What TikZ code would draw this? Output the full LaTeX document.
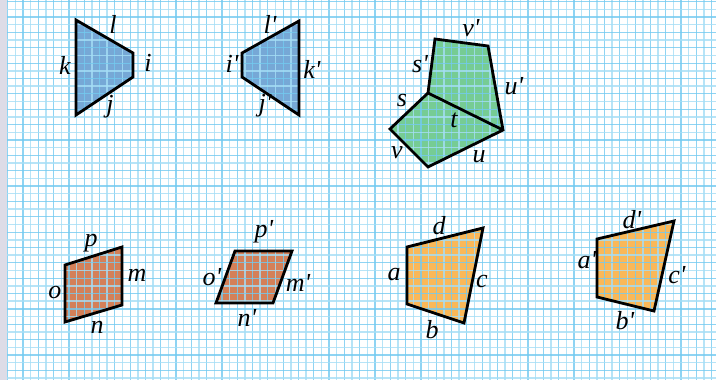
\documentclass[tikz,border=0pt]{standalone}
\usepackage{fontspec}
\setmainfont{Liberation Serif}[Ligatures=TeXOff]
\definecolor{gridblue}{RGB}{115,202,240}
\definecolor{gridpale}{RGB}{165,222,246}
\definecolor{stripgray}{RGB}{221,220,231}
\definecolor{shapeblue}{RGB}{118,168,214}
\definecolor{shapegreen}{RGB}{118,204,148}
\definecolor{shapebrown}{RGB}{212,128,88}
\definecolor{shapeorange}{RGB}{250,184,88}

\tikzset{
  figure/.style={draw=black, line width=2.8pt, line join=miter},
  lbl/.style={font=\fontsize{26}{30}\selectfont\itshape, inner sep=0pt},
}

\begin{document}
\begin{tikzpicture}[x=1pt,y=-1pt]
\useasboundingbox (0,0) rectangle (716,380);
\fill[white] (0,0) rectangle (716,380);
\fill[stripgray] (0,0) rectangle (7,380);

% vertices
\coordinate (kl) at (76,20);   \coordinate (li) at (133,53);
\coordinate (ij) at (133,77);  \coordinate (jk) at (76,115);
\coordinate (kl2) at (299,21); \coordinate (li2) at (242,53);
\coordinate (ij2) at (242,77); \coordinate (jk2) at (299,115);
\coordinate (sv2) at (435,39); \coordinate (vu2) at (488,46);
\coordinate (tu) at (503,130); \coordinate (st) at (428,93);
\coordinate (sv) at (390,129); \coordinate (vu) at (428,167);
\coordinate (op) at (65,265);  \coordinate (pm) at (122,247);
\coordinate (mn) at (122,305); \coordinate (no) at (65,322);
\coordinate (op2) at (235,251); \coordinate (pm2) at (292,251);
\coordinate (mn2) at (273,303); \coordinate (no2) at (216,303);
\coordinate (ad) at (407,247); \coordinate (dc) at (483,228);
\coordinate (cb) at (464,323); \coordinate (ba) at (407,304);
\coordinate (ad2) at (597,239); \coordinate (dc2) at (674,221);
\coordinate (cb2) at (654,311); \coordinate (ba2) at (597,297);

% fills
\fill[shapeblue] (kl) -- (li) -- (ij) -- (jk) -- cycle;
\fill[shapeblue] (kl2) -- (li2) -- (ij2) -- (jk2) -- cycle;
\fill[shapegreen] (sv2) -- (vu2) -- (tu) -- (vu) -- (sv) -- (st) -- cycle;
\fill[shapebrown] (op) -- (pm) -- (mn) -- (no) -- cycle;
\fill[shapebrown] (op2) -- (pm2) -- (mn2) -- (no2) -- cycle;
\fill[shapeorange] (ad) -- (dc) -- (cb) -- (ba) -- cycle;
\fill[shapeorange] (ad2) -- (dc2) -- (cb2) -- (ba2) -- cycle;

% grid
\begin{scope}[opacity=0.8]
\foreach \i in {0,...,92}{
  \pgfmathsetmacro{\gx}{7.7+7.652*\i}
  \ifodd\i
    \draw[gridpale, line width=1.5pt] (\gx,0) -- (\gx,380);
  \else
    \draw[gridblue, line width=1.2pt] (\gx,0) -- (\gx,380);
  \fi
}
\foreach \j in {0,...,49}{
  \pgfmathsetmacro{\gy}{1.7+7.68*\j}
  \ifodd\j
    \draw[gridpale, line width=1.5pt] (7,\gy) -- (716,\gy);
  \else
    \draw[gridblue, line width=1.2pt] (7,\gy) -- (716,\gy);
  \fi
}
\end{scope}

% outlines
\draw[figure] (kl) -- (li) -- (ij) -- (jk) -- cycle;
\draw[figure] (kl2) -- (li2) -- (ij2) -- (jk2) -- cycle;
\draw[figure] (sv2) -- (vu2) -- (tu) -- (vu) -- (sv) -- (st) -- cycle;
\draw[figure] (st) -- (tu);
\draw[figure] (op) -- (pm) -- (mn) -- (no) -- cycle;
\draw[figure] (op2) -- (pm2) -- (mn2) -- (no2) -- cycle;
\draw[figure] (ad) -- (dc) -- (cb) -- (ba) -- cycle;
\draw[figure] (ad2) -- (dc2) -- (cb2) -- (ba2) -- cycle;

% labels
\node[lbl] (l) at (113,24) {l};
\node[lbl] (k) at (65,65) {k};
\node[lbl] (i) at (148,63) {i};
\node[lbl] (j) at (110,107) {j};
\node[lbl] (l2) at (270,24) {l'};
\node[lbl] (i2) at (232,64) {i'};
\node[lbl] (k2) at (312,69) {k'};
\node[lbl] (j2) at (265,106) {j'};
\node[lbl] (v2) at (471,28) {v'};
\node[lbl] (s2) at (420,64) {s'};
\node[lbl] (u2) at (514,86) {u'};
\node[lbl] (s) at (402,101) {s};
\node[lbl] (t) at (454,120) {t};
\node[lbl] (v) at (397,153) {v};
\node[lbl] (u) at (479,157) {u};
\node[lbl] (p) at (91,243) {p};
\node[lbl] (m) at (137,275) {m};
\node[lbl] (o) at (55,293) {o};
\node[lbl] (n) at (97,327) {n};
\node[lbl] (p2) at (264,232) {p'};
\node[lbl] (o2) at (212,277) {o'};
\node[lbl] (m2) at (298,283) {m'};
\node[lbl] (n2) at (247,318) {n'};
\node[lbl] (d) at (439,226) {d};
\node[lbl] (a) at (394,275) {a};
\node[lbl] (c) at (482,282) {c};
\node[lbl] (b) at (432,330) {b};
\node[lbl] (d2) at (632,220) {d'};
\node[lbl] (a2) at (587,260) {a'};
\node[lbl] (c2) at (677,275) {c'};
\node[lbl] (b2) at (625,321) {b'};
\end{tikzpicture}
\end{document}
